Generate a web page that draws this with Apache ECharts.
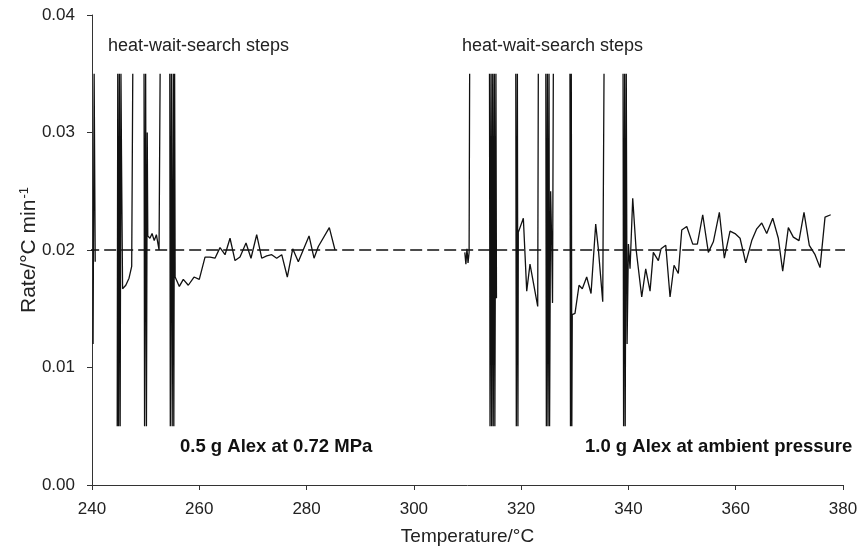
<!DOCTYPE html>
<html>
<head>
<meta charset="utf-8">
<script src="https://cdn.jsdelivr.net/npm/echarts@6/dist/echarts.min.js"></script>
<style>
  html, body { margin: 0; padding: 0; background: #fff; }
  #chart { width: 862px; height: 551px; }
</style>
</head>
<body>
<div id="chart"></div>
<script>
// Axis ticks
const xTicks = [240, 260, 280, 300, 320, 340, 360, 380];
const yTicks = [0.00, 0.01, 0.02, 0.03, 0.04];

// Run 1: 0.5 g Alex at 0.72 MPa (null = break between heat-wait-search steps)
const temps1 = [
  240.2, 240.4, 240.6, 242.6,
  244.7, 244.8, 244.95, 245.1, 245.25, 245.4, 245.5, 245.7, 246.3, 246.9, 247.4, 247.6, 248.6,
  249.7, 249.8, 250.0, 250.15, 250.3, 250.4, 250.8, 251.2, 251.6, 252.0, 252.5, 252.7, 253.6,
  254.5, 254.6, 254.8, 254.95, 255.15, 255.25, 255.4, 255.5, 256.28, 257.02, 257.95, 259.02,
  260.0, 261.07, 262.0, 262.93, 263.86, 264.8, 265.73, 266.66, 267.59, 268.71, 269.64, 270.7,
  271.64, 272.57, 273.5, 274.43, 275.37, 276.41, 277.42, 278.46, 280.46, 281.39, 282.19,
  284.24, 285.3
];
const rates1 = [
  0.012, 0.035, 0.019, null,
  0.005, 0.035, 0.005, 0.035, 0.005, 0.035, 0.028, 0.0167, 0.0170, 0.0176, 0.0186, 0.035, null,
  0.035, 0.005, 0.035, 0.005, 0.030, 0.0212, 0.0210, 0.0214, 0.0208, 0.0213, 0.0200, 0.035, null,
  0.035, 0.005, 0.035, 0.005, 0.035, 0.005, 0.035, 0.0177, 0.0169, 0.0175, 0.0170, 0.0177,
  0.0175, 0.0194, 0.0194, 0.0193, 0.0202, 0.0196, 0.0210, 0.0191, 0.0194, 0.0206, 0.0193, 0.0213,
  0.0193, 0.0195, 0.0196, 0.0193, 0.0196, 0.0177, 0.0201, 0.0190, 0.0212, 0.0193, 0.0203,
  0.0219, 0.0200
];

// Run 2: 1.0 g Alex at ambient pressure
const temps2 = [
  309.5, 309.7, 309.9, 310.1, 310.3, 310.4, 312.2,
  314.1, 314.2, 314.4, 314.5, 314.7, 314.8, 315.0, 315.1, 315.3, 315.4, 317.2,
  319.0, 319.1, 319.3, 319.4, 319.47, 320.41, 321.04, 321.65, 323.09, 323.2, 323.9,
  324.6, 324.7, 324.9, 325.0, 325.2, 325.3, 325.5, 325.7, 325.85, 326.0, 327.5,
  329.1, 329.2, 329.35, 329.45, 329.53, 330.04, 330.79, 331.4, 332.22, 333.03, 333.9, 334.39,
  335.21, 335.45, 337.2,
  339.0, 339.1, 339.3, 339.4, 339.6, 339.75, 340.0, 340.3, 340.8, 341.42, 342.48, 343.22,
  344.03, 344.64, 345.58, 346.08, 346.96, 347.76, 348.5, 349.3, 349.94, 350.87, 351.99,
  352.85, 353.85, 354.9, 355.83, 356.95, 357.88, 358.94, 359.87, 360.81, 361.87, 362.99,
  363.92, 364.85, 365.78, 366.9, 367.94, 368.76, 369.81, 370.74, 371.8, 372.73, 373.72,
  374.79, 375.72, 376.65, 377.71
];
const rates2 = [
  0.0198, 0.0188, 0.0201, 0.0189, 0.0198, 0.035, null,
  0.035, 0.005, 0.035, 0.005, 0.035, 0.005, 0.035, 0.005, 0.035, 0.0159, null,
  0.035, 0.005, 0.035, 0.005, 0.0215, 0.0227, 0.0165, 0.0188, 0.0152, 0.035, null,
  0.035, 0.005, 0.035, 0.005, 0.035, 0.005, 0.025, 0.0205, 0.0155, 0.035, null,
  0.035, 0.005, 0.035, 0.005, 0.0145, 0.0146, 0.0170, 0.0167, 0.0177, 0.0163, 0.0222, 0.0201,
  0.0156, 0.035, null,
  0.035, 0.005, 0.035, 0.005, 0.035, 0.012, 0.0205, 0.0184, 0.0244, 0.0201, 0.0160, 0.0184,
  0.0165, 0.0198, 0.0191, 0.0201, 0.0204, 0.0160, 0.0187, 0.0180, 0.0217, 0.0220, 0.0205,
  0.0205, 0.0230, 0.0198, 0.0207, 0.0232, 0.0193, 0.0216, 0.0214, 0.0210, 0.0189, 0.0208,
  0.0218, 0.0223, 0.0214, 0.0227, 0.0210, 0.0182, 0.0219, 0.0211, 0.0208, 0.0232, 0.0204,
  0.0196, 0.0185, 0.0228, 0.0230
];

// Target heating rate
const targetTemps = [239.1, 382.8];
const targetRates = [0.02, 0.02];

const toPairs = (xs, ys) => xs.map((x, i) => [x, ys[i] == null ? '-' : ys[i]]);

const FONT = '"Liberation Sans", Arial, sans-serif';
const chart = echarts.init(document.getElementById('chart'));

chart.setOption({
  animation: false,
  backgroundColor: '#fff',
  grid: { left: 92, right: 19, top: 15, bottom: 65, containLabel: false },
  xAxis: {
    type: 'value',
    min: xTicks[0],
    max: xTicks[xTicks.length - 1],
    interval: 20,
    name: 'Temperature/°C',
    nameLocation: 'middle',
    nameGap: 42,
    nameMoveOverlap: false,
    nameTextStyle: { fontFamily: FONT, fontSize: 19, color: '#222' },
    axisLine: { show: true, lineStyle: { color: '#333', width: 1 } },
    axisTick: { show: true, inside: false, length: 5, lineStyle: { color: '#333' } },
    axisLabel: { fontFamily: FONT, fontSize: 17, color: '#222', margin: 16 },
    splitLine: { show: false }
  },
  yAxis: {
    type: 'value',
    min: yTicks[0],
    max: yTicks[yTicks.length - 1],
    interval: 0.01,
    name: '{a|Rate/°C min}{s|-1}',
    nameLocation: 'middle',
    nameRotate: 90,
    nameGap: 51,
    nameMoveOverlap: false,
    nameTextStyle: {
      rich: {
        a: { fontFamily: FONT, fontSize: 21, color: '#222' },
        s: { fontFamily: FONT, fontSize: 13, color: '#222', padding: [0, 0, 10, 1] }
      }
    },
    axisLine: { show: true, lineStyle: { color: '#333', width: 1 } },
    axisTick: { show: true, inside: false, length: 5, lineStyle: { color: '#333' } },
    axisLabel: {
      fontFamily: FONT, fontSize: 17, color: '#222', margin: 17,
      formatter: v => v.toFixed(2)
    },
    splitLine: { show: false }
  },
  graphic: [
    { type: 'text', left: 108, top: 37, style: { text: 'heat-wait-search steps', font: '18px ' + FONT, fill: '#222' } },
    { type: 'text', left: 462, top: 37, style: { text: 'heat-wait-search steps', font: '18px ' + FONT, fill: '#222' } },
    { type: 'text', left: 180, top: 437, style: { text: '0.5 g Alex at 0.72 MPa', font: 'bold 18.5px ' + FONT, fill: '#111' } },
    { type: 'text', left: 585, top: 437, style: { text: '1.0 g Alex at ambient pressure', font: 'bold 18.5px ' + FONT, fill: '#111' } }
  ],
  series: [
    {
      type: 'line',
      data: toPairs(targetTemps, targetRates),
      showSymbol: false,
      clip: false,
      lineStyle: { color: '#111', width: 1.4, type: [12, 5] },
      z: 1
    },
    {
      type: 'line',
      data: toPairs(temps1, rates1),
      showSymbol: false,
      connectNulls: false,
      lineStyle: { color: '#111', width: 1.3 },
      z: 2
    },
    {
      type: 'line',
      data: toPairs(temps2, rates2),
      showSymbol: false,
      connectNulls: false,
      lineStyle: { color: '#111', width: 1.3 },
      z: 2
    }
  ]
});
</script>
</body>
</html>
